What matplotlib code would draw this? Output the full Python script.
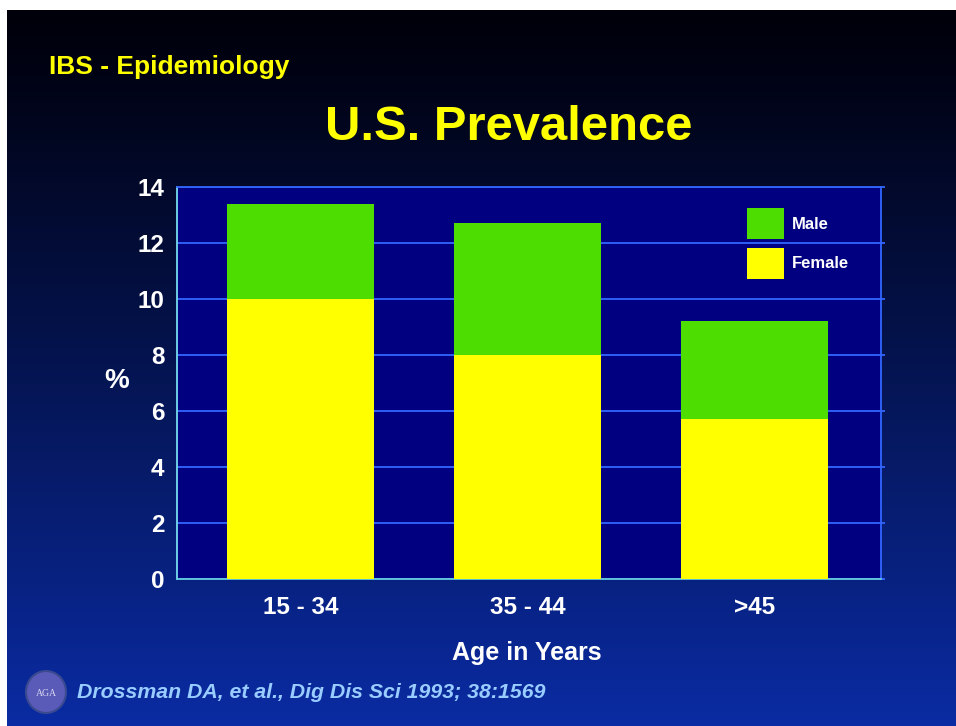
import matplotlib
matplotlib.use('Agg')
import matplotlib.pyplot as plt
import matplotlib.patches as patches
import numpy as np

plt.rcParams['font.family'] = ['Liberation Sans', 'DejaVu Sans']

# IBS prevalence by age group (percent), split by sex
age_groups = ['15 - 34', '35 - 44', '>45']
female = [10.0, 8.0, 5.7]
male = [3.4, 4.7, 3.5]
y_ticks = [0, 2, 4, 6, 8, 10, 12, 14]

W, H = 956, 726
fig = plt.figure(figsize=(W / 100, H / 100), dpi=100)
fig.patch.set_facecolor('white')

# slide background: black at the top fading to blue at the bottom
bg = fig.add_axes([7 / W, 0, 1 - 7 / W, 1 - 10 / H])
t = np.linspace(0, 1, 256)[:, None]
top = np.array([0.0, 0.0, 0.04])
bot = np.array([0.04, 0.17, 0.64])
grad = top + (bot - top) * (t ** 1.1)[:, :, None]
grad = np.repeat(grad, 4, axis=1)
bg.imshow(grad, aspect='auto', extent=[0, 1, 0, 1], origin='upper')
bg.set_axis_off()

ax = fig.add_axes([177 / W, 1 - 579 / H, (881 - 177) / W, (579 - 187) / H])
ax.set_facecolor('#000080')

x = np.arange(len(age_groups))
b1 = ax.bar(x, female, width=0.648, color='#ffff00', zorder=3)
b2 = ax.bar(x, male, width=0.648, bottom=female, color='#4ddd00', zorder=3)

ax.set_xlim(-0.544, 2.557)
ax.set_ylim(0, 14)
ax.set_yticks(y_ticks)
ax.set_xticks(x)
ax.set_xticklabels(age_groups)
ax.yaxis.grid(True, color='#3366ff', lw=1.3, zorder=1)
ax.set_axisbelow(True)

for side in ['top', 'right']:
    ax.spines[side].set_color('#3366ff')
    ax.spines[side].set_linewidth(1.3)
ax.spines['left'].set_color('#77ddee')
ax.spines['bottom'].set_color('#66ccdd')
ax.spines['left'].set_linewidth(1.3)
ax.spines['bottom'].set_linewidth(1.3)

ax.tick_params(axis='y', left=False, right=True, labelleft=True, labelright=False,
               direction='out', length=3, width=1.3, color='#3366ff', pad=6,
               labelsize=17.5, labelcolor='white')
ax.tick_params(axis='x', bottom=False, labelsize=17.5, labelcolor='white', pad=9)
for lab in ax.get_xticklabels() + ax.get_yticklabels():
    lab.set_fontweight('bold')

leg = ax.legend([b2, b1], ['Male', 'Female'], loc='upper left',
                bbox_to_anchor=(747 / W, 1 - 208 / H), bbox_transform=fig.transFigure,
                frameon=False, borderpad=0, borderaxespad=0,
                handlelength=2.2, handleheight=2.5, handletextpad=0.5,
                labelspacing=0.5, prop={'size': 12, 'weight': 'bold'})
for txt in leg.get_texts():
    txt.set_color('white')

fig.text(49 / W, 1 - 67 / H, 'IBS - Epidemiology', color='#ffff00', fontsize=19,
         fontweight='bold', ha='left', va='center')
fig.text(509 / W, 1 - 128 / H, 'U.S. Prevalence', color='#ffff00', fontsize=35.3,
         fontweight='bold', ha='center', va='center')
fig.text(117 / W, 1 - 381 / H, '%', color='white', fontsize=20,
         fontweight='bold', ha='center', va='center')
fig.text(527 / W, 1 - 653 / H, 'Age in Years', color='white', fontsize=18,
         fontweight='bold', ha='center', va='center')
fig.text(77 / W, 1 - 692 / H, 'Drossman DA, et al., Dig Dis Sci 1993; 38:1569',
         color='#99ccff', fontsize=15.3, fontweight='bold', style='italic',
         ha='left', va='center')

# society logo in the lower left corner
logo = patches.Ellipse((46 / W, 1 - 692 / H), 40 / W, 42 / H, transform=fig.transFigure,
                       facecolor='#5a5ab8', edgecolor='#3a4a90', lw=1.5)
fig.patches.append(logo)
fig.text(46 / W, 1 - 694 / H, 'AGA', color='#d8d8f0', fontsize=7, family='Liberation Serif',
         ha='center', va='center')

fig.savefig('out.png', dpi=100)
